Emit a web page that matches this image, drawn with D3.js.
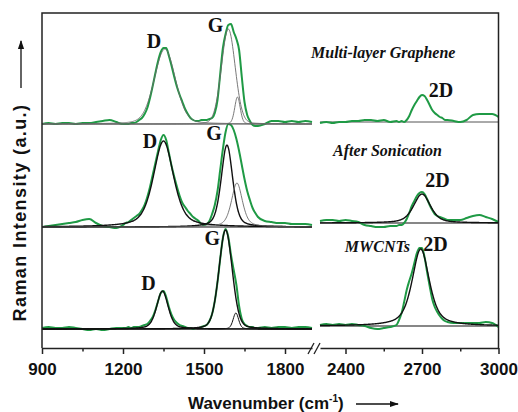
<!DOCTYPE html>
<html lang="en">
<head>
<meta charset="UTF-8">
<title>Raman spectra</title>
<script src="https://cdn.jsdelivr.net/npm/d3@7"></script>
<style>
  body { margin: 0; background: #fff; }
  svg { display: block; }
  .tick-lbl { font-family: "Liberation Sans", Arial, sans-serif; font-weight: bold; font-size: 17px; fill: #111; }
  .peak { font-family: "Liberation Serif", "Times New Roman", serif; font-weight: bold; font-size: 20px; fill: #111; }
  .sample { font-family: "Liberation Serif", "Times New Roman", serif; font-weight: bold; font-style: italic; font-size: 16px; fill: #111; }
  .axis-title { font-family: "Liberation Sans", Arial, sans-serif; font-weight: bold; fill: #111; }
</style>
</head>
<body>
<svg width="518" height="412"></svg>
<script>
// wavenumber grids (cm-1) for the two halves of the broken axis
const leftWn = [900,925,950,975,1000,1025,1050,1075,1100,1125,1150,1175,
  1200,1210,1220,1230,1240,1250,1260,1270,1280,1290,
  1300,1310,1320,1330,1340,1350,1360,1370,1380,1390,
  1400,1410,1420,1430,1440,1450,1460,1470,1480,1490,
  1500,1510,1520,1530,1540,1550,1560,1570,1580,1590,
  1600,1610,1620,1630,1640,1650,1660,1670,1680,1690,
  1700,1725,1750,1775,1800,1825,1850,1875,1900];
const rightWn = [2300,2325,2350,2375,2400,2425,2450,2475,2500,2525,2550,2575,2600,
  2610,2620,2630,2640,2650,2660,2670,2680,2690,2700,2710,2720,2730,2740,2750,2760,2770,2780,2790,2800,
  2825,2850,2875,2900,2925,2950,2975,3000];

// measured spectra (a.u., above each sample's baseline)
const mwcntLeft = [1,2,1,1,2,1,0,-1,0,-1,0,1,
  1,1,2,1,2,2,2,3,4,5,
  8,12,19,28,36,38,32,22,14,9,
  6,4,3,2,1,1,0,1,1,2,
  3,4,8,15,28,47,70,91,100,92,
  74,59,44,23,10,5,3,2,2,1,
  1,2,1,2,2,1,2,2,1];
const sonicLeft = [0,1,2,3,4,5,7,8,4,1,0,-1,
  2,4,5,7,9,11,13,17,22,30,
  40,52,64,76,87,92,87,74,61,50,
  40,31,24,20,16,13,10,8,6,3,
  2,3,6,13,22,36,57,78,95,103,
  102,97,88,76,62,48,36,27,19,14,
  10,6,5,4,4,3,3,3,2];
const grapheneLeft = [0,1,0,1,1,0,1,1,2,3,4,2,
  0,0,0,1,1,2,4,6,10,16,
  26,38,51,63,72,76,76,68,58,47,
  37,29,22,15,10,6,4,3,3,4,
  4,4,5,6,11,24,50,76,90,99,
  100,92,85,74,47,22,9,3,-1,-2,
  -2,0,3,3,2,3,2,3,2];

const mwcntRight = [1,2,1,2,1,2,1,0,-2,-3,-2,-1,1,
  6,13,24,36,45,53,63,73,78,78,69,54,40,27,19,14,10,7,5,4,
  3,3,3,3,3,4,3,-1];
const sonicRight = [2,3,3,2,3,2,1,-2,-3,-4,-4,-3,-3,
  -2,-2,0,4,10,17,22,27,30,31,29,24,18,13,9,7,6,5,4,3,
  3,3,5,7,8,6,4,1];
const grapheneRight = [-1,0,-1,0,0,1,1,2,2,1,2,0,1,
  0,1,0,2,6,12,17,21,25,27,26,22,17,12,9,7,5,4,2,2,
  1,0,2,7,8,8,8,5];

// vertical offset of each sample (bottom, middle, top)
const offsetLeft = [19, 121, 224];
const offsetRight = [22, 125, 226];

// fitted peaks: [centre, height, FWHM, lorentzian fraction]; order D, G, D'
const fitMwcnt = [[1346, 38, 50, 0.4], [1580, 99, 58, 0.2], [1618, 16, 24, 0.3]];
const fitSonic = [[1350, 86, 88, 0.5], [1585, 82, 50, 0.4], [1622, 44, 48, 0.5]];
const fitGraphene = [[1355, 75, 92, 0.2], [1590, 95, 60, 0.1], [1624, 27, 24, 0.2]];
const fit2D = [[2695, 77, 80, 0.6], [2700, 29, 78, 0.5], null];

// text labels: [text, half, wavenumber, intensity]
const peakLabels = [
  ["D", "L", 1315, 300], ["G", "L", 1543, 316], ["2D", "R", 2774, 251],
  ["D", "L", 1300, 200], ["G", "L", 1537, 208], ["2D", "R", 2761, 161],
  ["D", "L", 1294, 58], ["G", "L", 1531, 103], ["2D", "R", 2753, 97]
];
const sampleLabels = [
  ["Multi-layer Graphene", 2548, 290],
  ["After Sonication", 2565, 192],
  ["MWCNTs", 2525, 96]
];
const majorLeft = [900, 1200, 1500, 1800], minorLeft = [1050, 1350, 1650];
const majorRight = [2400, 2700, 3000], minorRight = [2550, 2850];

const svg = d3.select("svg");
const mLeft = 42, mRight = 498.5, mTop = 13, mBottom = 348;

const xL = d3.scaleLinear().domain([900, 1900]).range([mLeft, 312]);
const xR = d3.scaleLinear().domain([2300, 3000]).range([320, mRight]);
const y = d3.scaleLinear().domain([0, 335]).range([mBottom, mTop]);

const green = "#1f9a45";

function pv(x, p) {
  const r = (x - p[0]) / (p[2] / 2);
  return p[1] * (p[3] / (1 + r * r) + (1 - p[3]) * Math.pow(2, -r * r));
}

const fineL = d3.range(900, 1900.1, 2);
const fineR = d3.range(2300, 3000.1, 2);

const spectra = [
  { l: mwcntLeft, r: mwcntRight, fits: fitMwcnt, f2d: fit2D[0] },
  { l: sonicLeft, r: sonicRight, fits: fitSonic, f2d: fit2D[1] },
  { l: grapheneLeft, r: grapheneRight, fits: fitGraphene, f2d: fit2D[2] }
];

const plot = svg.append("g");

spectra.forEach((s, i) => {
  const offL = offsetLeft[i], offR = offsetRight[i];
  const lineL = d3.line().x(d => xL(d[0])).y(d => y(offL + d[1])).curve(d3.curveMonotoneX);
  const lineR = d3.line().x(d => xR(d[0])).y(d => y(offR + d[1])).curve(d3.curveMonotoneX);
  const isTop = i === 2;

  // baselines
  plot.append("path").attr("d", lineL([[900, 0], [1900, 0]]))
    .attr("fill", "none").attr("stroke", isTop ? "#555" : "#111").attr("stroke-width", isTop ? 1 : 1.2);
  plot.append("path").attr("d", lineR([[2300, 0], [3000, 0]]))
    .attr("fill", "none").attr("stroke", isTop ? "#555" : "#111").attr("stroke-width", isTop ? 1 : 1.2);

  // measured data
  plot.append("path").attr("d", lineL(d3.zip(leftWn, s.l)))
    .attr("fill", "none").attr("stroke", green).attr("stroke-width", 2);
  plot.append("path").attr("d", lineR(d3.zip(rightWn, s.r)))
    .attr("fill", "none").attr("stroke", green).attr("stroke-width", 2);

  // fitted components
  s.fits.forEach((p, k) => {
    const thin = isTop || (i === 1 && k === 2);
    plot.append("path").attr("d", lineL(fineL.map(x => [x, pv(x, p)])))
      .attr("fill", "none")
      .attr("stroke", thin ? "#6a6a6a" : "#111")
      .attr("stroke-width", thin ? 0.9 : (k === 2 ? 1 : 1.4));
  });
  if (s.f2d) {
    plot.append("path").attr("d", lineR(fineR.map(x => [x, pv(x, s.f2d)])))
      .attr("fill", "none").attr("stroke", "#111").attr("stroke-width", 1.4);
  }
});

// frame
const frame = svg.append("g").attr("stroke", "#222").attr("stroke-width", 1.5).attr("fill", "none");
frame.append("path").attr("d", `M${mLeft},${mBottom}V${mTop}H${mRight}V${mBottom}`);

// axes
function addAxis(scale, major, minor) {
  const g = svg.append("g").attr("transform", `translate(0,${mBottom})`)
    .call(d3.axisBottom(scale).tickValues(major).tickSize(6).tickSizeOuter(0).tickPadding(9).tickFormat(d3.format("d")));
  g.select(".domain").attr("stroke", "#222").attr("stroke-width", 1.5);
  g.selectAll(".tick line").attr("stroke", "#222").attr("stroke-width", 1.5);
  g.selectAll(".tick text").attr("class", "tick-lbl");
  g.attr("font-size", null).attr("font-family", null);
  const m = svg.append("g").attr("transform", `translate(0,${mBottom})`)
    .call(d3.axisBottom(scale).tickValues(minor).tickSize(3.5).tickFormat(""));
  m.select(".domain").remove();
  m.selectAll(".tick line").attr("stroke", "#222").attr("stroke-width", 1.5);
}
addAxis(xL, majorLeft, minorLeft);
addAxis(xR, majorRight, minorRight);

// axis break marks
const brk = svg.append("g").attr("stroke", "#222").attr("stroke-width", 1.3);
[xL(1900) - 1, xL(1900) + 5].forEach(bx => {
  brk.append("line").attr("x1", bx - 3).attr("y1", mBottom + 6).attr("x2", bx + 3).attr("y2", mBottom - 5);
});

// labels
peakLabels.forEach(([t, half, wn, v]) => {
  svg.append("text").attr("class", "peak").attr("text-anchor", "middle")
    .attr("x", half === "L" ? xL(wn) : xR(wn)).attr("y", y(v)).text(t);
});
sampleLabels.forEach(([t, wn, v]) => {
  svg.append("text").attr("class", "sample").attr("text-anchor", "middle")
    .attr("x", xR(wn)).attr("y", y(v)).text(t);
});

// arrow heads
const defs = svg.append("defs");
defs.append("marker").attr("id", "arr").attr("viewBox", "0 0 10 10").attr("refX", 9).attr("refY", 5)
  .attr("markerWidth", 7).attr("markerHeight", 7).attr("orient", "auto")
  .append("path").attr("d", "M0,1.5L10,5L0,8.5Z").attr("fill", "#111");

// x title
const xt = svg.append("text").attr("class", "axis-title").attr("x", 188).attr("y", 409).style("font-size", "17px");
xt.append("tspan").text("Wavenumber (cm");
xt.append("tspan").attr("dy", -7).style("font-size", "10px").text("-1");
xt.append("tspan").attr("dy", 7).text(")");
svg.append("line").attr("x1", 356).attr("y1", 404).attr("x2", 398).attr("y2", 404)
  .attr("stroke", "#111").attr("stroke-width", 1.3).attr("marker-end", "url(#arr)");

// y title
svg.append("text").attr("class", "axis-title").attr("text-anchor", "middle")
  .attr("transform", "translate(26,212.5) rotate(-90)")
  .style("font-size", "18px").style("letter-spacing", "1.4px")
  .text("Raman Intensity (a.u.)");
svg.append("line").attr("x1", 21).attr("y1", 88).attr("x2", 21).attr("y2", 41)
  .attr("stroke", "#111").attr("stroke-width", 1.3).attr("marker-end", "url(#arr)");
</script>
</body>
</html>
